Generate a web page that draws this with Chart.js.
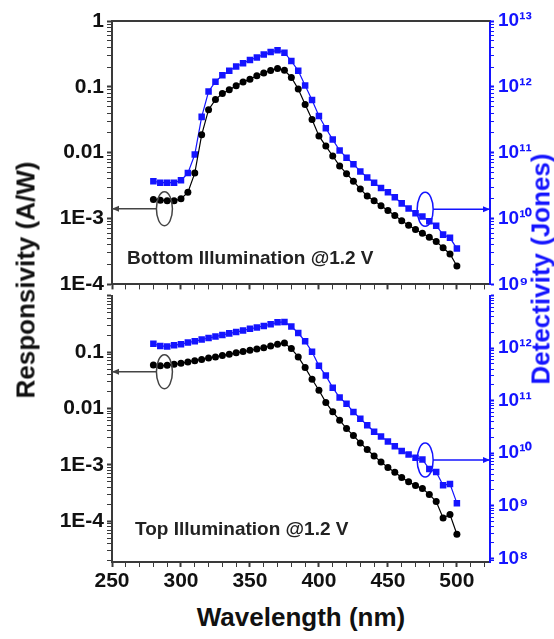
<!DOCTYPE html>
<html>
<head>
<meta charset="utf-8">
<script src="https://cdn.jsdelivr.net/npm/chart.js@4.4.0/dist/chart.umd.min.js"></script>
<style>
  html, body { margin: 0; padding: 0; background: #fff; }
  #wrap { position: relative; width: 554px; height: 639px; font-family: 'Liberation Sans', Arial, sans-serif; overflow: hidden; }
  #upper { position: absolute; left: 0; top: 0; }
  #lower { position: absolute; left: 0; top: 280px; }
  .title { position: absolute; font-weight: bold; font-size: 26px; white-space: nowrap; transform: translate(-50%, -50%); }
  .vert { transform: translate(-50%, -50%) rotate(-90deg); }
</style>
</head>
<body>
<div id="wrap">
  <canvas id="upper" width="554" height="300"></canvas>
  <canvas id="lower" width="554" height="320"></canvas>
  <div class="title vert" style="left:26px; top:280px; color:#111;">Responsivity (A/W)</div>
  <div class="title vert" style="left:541px; top:269px; color:#1414ff;">Detectivity (Jones)</div>
  <div class="title" style="left:301px; top:617px; color:#111;">Wavelength (nm)</div>
</div>
<script>
// wavelength (nm)
const wavelength = [280, 285, 290, 295, 300, 305, 310, 315, 320, 325, 330, 335, 340, 345, 350,
  355, 360, 365, 370, 375, 380, 385, 390, 395, 400, 405, 410, 415, 420, 425, 430, 435, 440,
  445, 450, 455, 460, 465, 470, 475, 480, 485, 490, 495, 500];

// bottom illumination
const respBottomIllum = [1.94e-3, 1.9e-3, 1.86e-3, 1.86e-3, 2.0e-3, 2.5e-3, 4.9e-3, 1.87e-2, 4.5e-2, 6.4e-2,
  7.9e-2, 9.0e-2, 0.104, 0.118, 0.131, 0.147, 0.162, 0.177, 0.19, 0.178, 0.139, 0.093, 0.054, 0.032,
  0.018, 0.0126, 8.9e-3, 6.3e-3, 4.8e-3, 3.7e-3, 2.8e-3, 2.2e-3, 1.86e-3, 1.56e-3, 1.32e-3, 1.11e-3,
  9.3e-4, 7.9e-4, 6.8e-4, 6.0e-4, 5.2e-4, 4.5e-4, 3.6e-4, 2.9e-4, 1.9e-4];
const detBottomIllum = [3.7e10, 3.5e10, 3.5e10, 3.5e10, 3.8e10, 4.9e10, 9.4e10, 3.5e11, 8.5e11, 1.2e12,
  1.5e12, 1.75e12, 2.04e12, 2.28e12, 2.56e12, 2.8e12, 3.1e12, 3.37e12, 3.6e12, 3.3e12, 2.47e12, 1.75e12,
  1.05e12, 6.3e11, 3.6e11, 2.35e11, 1.58e11, 1.08e11, 8.4e10, 6.7e10, 5.2e10, 4.2e10, 3.5e10, 2.9e10,
  2.5e10, 2.1e10, 1.7e10, 1.42e10, 1.2e10, 1.07e10, 9.1e9, 7.8e9, 5.7e9, 5.1e9, 3.5e9];

// top illumination
const respTopIllum = [0.059, 0.057, 0.058, 0.0607, 0.063, 0.0667, 0.0703, 0.074, 0.078, 0.082, 0.087,
  0.0916, 0.0966, 0.102, 0.107, 0.113, 0.119, 0.128, 0.138, 0.144, 0.115, 0.082, 0.053, 0.033, 0.021,
  0.0128, 8.7e-3, 6.2e-3, 4.4e-3, 3.3e-3, 2.45e-3, 1.87e-3, 1.44e-3, 1.13e-3, 9.0e-4, 7.4e-4, 6.0e-4,
  5.0e-4, 4.3e-4, 3.8e-4, 3.0e-4, 2.24e-4, 1.15e-4, 1.32e-4, 5.9e-5];
const detTopIllum = [1.21e12, 1.1e12, 1.08e12, 1.13e12, 1.19e12, 1.28e12, 1.35e12, 1.46e12, 1.56e12,
  1.66e12, 1.78e12, 1.91e12, 2.02e12, 2.17e12, 2.33e12, 2.47e12, 2.65e12, 2.85e12, 3.1e12, 3.15e12,
  2.58e12, 1.94e12, 1.35e12, 8.5e11, 4.6e11, 3.0e11, 1.77e11, 1.15e11, 8.7e10, 6.1e10, 4.55e10, 3.4e10,
  2.57e10, 2.08e10, 1.68e10, 1.36e10, 1.1e10, 9.5e9, 8.2e9, 7.6e9, 5.0e9, 4.4e9, 2.46e9, 2.6e9, 1.12e9];

// tick labels
const respTicks = [1, 0.1, 0.01, 1e-3, 1e-4];
const respTickLabels = ['1', '0.1', '0.01', '1E-3', '1E-4'];
const detTicks = [1e13, 1e12, 1e11, 1e10, 1e9, 1e8];
const detTickLabels = ['10\u00b9\u00b3', '10\u00b9\u00b2', '10\u00b9\u00b9', '10\u00b9\u2070', '10\u2079', '10\u2078'];
const xTickLabels = [250, 300, 350, 400, 450, 500];

const FONT = "'Liberation Sans', Arial, sans-serif";
const BLUE = '#1414ff';
const GREY = '#3a3a3a';

function pts(ys) {
  return wavelength.map((w, i) => ({ x: w, y: ys[i] }));
}

function logTicks(scale) {
  const ticks = [];
  const lo = Math.floor(Math.log10(scale.min));
  const hi = Math.ceil(Math.log10(scale.max));
  for (let e = lo; e <= hi; e++) {
    for (let k = 1; k < 10; k++) {
      const v = Number(k + 'e' + e);
      if (v >= scale.min * 0.9999 && v <= scale.max * 1.0001) ticks.push({ value: v, major: k === 1 });
    }
  }
  scale.ticks = ticks;
}

function logLabel(values, labels, hideTop) {
  return function (value) {
    if (hideTop && value >= this.max * 0.999) return '';
    const i = values.findIndex(t => Math.abs(Math.log10(t) - Math.log10(value)) < 1e-6);
    return i < 0 ? '' : labels[i];
  };
}

const callouts = {
  id: 'callouts',
  afterDatasetsDraw(chart, args, opts) {
    const ctx = chart.ctx;
    const area = chart.chartArea;
    ctx.save();
    (opts.items || []).forEach(it => {
      const px = chart.scales.x.getPixelForValue(it.x);
      const py = chart.scales[it.axis].getPixelForValue(it.y);
      ctx.strokeStyle = it.color;
      ctx.fillStyle = it.color;
      ctx.lineWidth = 1.5;
      ctx.beginPath();
      ctx.ellipse(px, py, 8, 17, 0, 0, Math.PI * 2);
      ctx.stroke();
      const start = it.side === 'left' ? px - 8 : px + 8;
      const end = it.side === 'left' ? area.left : area.right;
      const dir = it.side === 'left' ? 1 : -1;
      ctx.beginPath();
      ctx.moveTo(start, py);
      ctx.lineTo(end, py);
      ctx.stroke();
      ctx.beginPath();
      ctx.moveTo(end, py);
      ctx.lineTo(end + dir * 7, py - 3);
      ctx.lineTo(end + dir * 7, py + 3);
      ctx.closePath();
      ctx.fill();
    });
    if (opts.label) {
      ctx.font = 'bold 19px ' + FONT;
      ctx.fillStyle = '#222';
      ctx.textBaseline = 'middle';
      ctx.fillText(opts.label.text, area.left + opts.label.dx, area.bottom - opts.label.dy);
    }
    if (opts.topFrame) {
      ctx.strokeStyle = GREY;
      ctx.lineWidth = 2;
      ctx.beginPath();
      ctx.moveTo(area.left, area.top);
      ctx.lineTo(area.right, area.top);
      ctx.stroke();
    }
    ctx.restore();
  }
};

function makePanel(canvasId, resp, det, cfg) {
  return new Chart(document.getElementById(canvasId), {
    type: 'line',
    data: {
      datasets: [
        {
          data: pts(resp), yAxisID: 'y',
          borderColor: '#000', backgroundColor: '#000', borderWidth: 1.2,
          pointStyle: 'circle', pointRadius: 3.5, pointBorderWidth: 0
        },
        {
          data: pts(det), yAxisID: 'y2',
          borderColor: BLUE, backgroundColor: BLUE, borderWidth: 1.2,
          pointStyle: 'rect', pointRadius: 4.6, pointBorderWidth: 0
        }
      ]
    },
    options: {
      responsive: false,
      animation: false,
      devicePixelRatio: 1,
      layout: { padding: { top: cfg.padTop, left: 0, right: 0, bottom: 0 } },
      plugins: {
        legend: { display: false },
        tooltip: { enabled: false },
        callouts: { items: cfg.callouts, label: cfg.label, topFrame: cfg.topFrame }
      },
      scales: {
        x: {
          type: 'linear', position: 'bottom', min: 250, max: 524,
          afterFit: s => { s.height = cfg.xHeight; },
          border: { display: true, color: GREY, width: 2 },
          grid: {
            drawOnChartArea: false, drawTicks: true, tickLength: 5, tickColor: GREY,
            tickWidth: c => (c.tick && c.tick.value % 50 === 0 ? 2 : 1)
          },
          ticks: {
            display: cfg.xLabels, stepSize: 10, autoSkip: false, includeBounds: false, maxRotation: 0,
            color: '#111', font: { family: FONT, size: 21, weight: 'bold' }, padding: 2,
            callback: v => (xTickLabels.includes(v) ? String(v) : '')
          }
        },
        y: {
          type: 'logarithmic', position: 'left', min: cfg.rMin, max: 1,
          afterFit: s => { s.width = 112; },
          afterBuildTicks: logTicks,
          border: { display: true, color: GREY, width: 2 },
          grid: {
            drawOnChartArea: false, drawTicks: true, tickLength: 5, tickColor: GREY,
            tickWidth: c => (c.tick && c.tick.major ? 2 : 1)
          },
          ticks: {
            autoSkip: false, color: '#111', padding: 3,
            font: { family: FONT, size: 21, weight: 'bold' },
            callback: logLabel(respTicks, respTickLabels, cfg.hideTop)
          }
        },
        y2: {
          type: 'logarithmic', position: 'right', min: cfg.dMin, max: 1e13,
          afterFit: s => { s.width = 64; },
          afterBuildTicks: logTicks,
          border: { display: true, color: BLUE, width: 2 },
          grid: {
            drawOnChartArea: false, drawTicks: true, tickLength: 4, tickColor: BLUE,
            tickWidth: c => (c.tick && c.tick.major ? 2 : 1)
          },
          ticks: {
            autoSkip: false, color: BLUE, padding: 4,
            font: { family: FONT, size: 19, weight: 'bold' },
            callback: logLabel(detTicks, detTickLabels, cfg.hideTop)
          }
        }
      }
    },
    plugins: [callouts]
  });
}

makePanel('upper', respBottomIllum, detBottomIllum, {
  padTop: 21, xHeight: 11, xLabels: false, rMin: 1e-4, dMin: 1e9, hideTop: false, topFrame: true,
  label: { text: 'Bottom Illumination @1.2 V', dx: 15, dy: 26 },
  callouts: [
    { x: 288, y: 1.41e-3, axis: 'y', side: 'left', color: '#444' },
    { x: 477, y: 1.38e10, axis: 'y2', side: 'right', color: BLUE }
  ]
});

makePanel('lower', respTopIllum, detTopIllum, {
  padTop: 9, xHeight: 38, xLabels: true, rMin: 1.9e-5, dMin: 8.5e7, hideTop: true, topFrame: false,
  label: { text: 'Top Illumination @1.2 V', dx: 23, dy: 32 },
  callouts: [
    { x: 288, y: 0.0448, axis: 'y', side: 'left', color: '#444' },
    { x: 477, y: 7.4e9, axis: 'y2', side: 'right', color: BLUE }
  ]
});
</script>
</body>
</html>
